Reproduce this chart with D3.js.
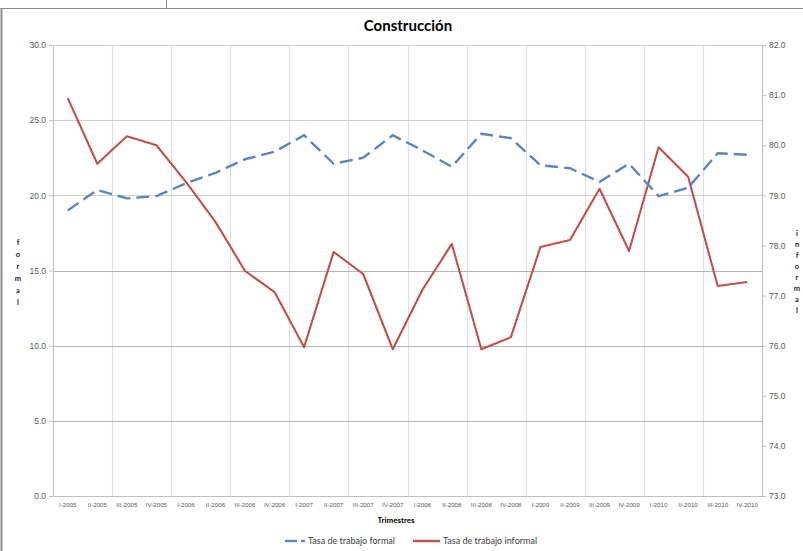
<!DOCTYPE html>
<html>
<head>
<meta charset="utf-8">
<script src="https://cdn.jsdelivr.net/npm/d3@7"></script>
<style>
  html, body { margin: 0; padding: 0; background: #ffffff; }
  svg { display: block; font-family: Lato, "Open Sans", "Liberation Sans", sans-serif; }
</style>
</head>
<body>
<svg id="chart" width="803" height="551"></svg>
<script>
const categories = ["I-2005","II-2005","III-2005","IV-2005","I-2006","II-2006","III-2006","IV-2006",
  "I-2007","II-2007","III-2007","IV-2007","I-2008","II-2008","III-2008","IV-2008",
  "I-2009","II-2009","III-2009","IV-2009","I-2010","II-2010","III-2010","IV-2010"];
const formal = [19.0,20.35,19.8,19.95,20.8,21.5,22.4,22.9,24.0,22.1,22.5,24.0,
  23.0,21.9,24.1,23.8,22.0,21.8,20.9,22.1,19.95,20.5,22.8,22.7];
const informal = [80.94,79.63,80.18,80.0,79.27,78.47,77.49,77.07,75.97,77.87,77.43,75.93,
  77.11,78.03,75.93,76.17,77.97,78.11,79.13,77.89,79.96,79.37,77.19,77.27];
const leftTicks = [0,5,10,15,20,25,30];
const rightTicks = [73,74,75,76,77,78,79,80,81,82];
const seriesNames = ["Tasa de trabajo formal","Tasa de trabajo informal"];

const svg = d3.select("#chart");
const L = 53, R = 762, T = 45, B = 496;

const x = d3.scaleBand().domain(categories).range([L, R]);
const yL = d3.scaleLinear().domain([0, 30]).range([B, T]);
const yR = d3.scaleLinear().domain([73, 82]).range([B, T]);

// outer frame lines
svg.append("line").attr("x1",0).attr("x2",803).attr("y1",8.5).attr("y2",8.5).attr("stroke","#8c8c8c");
svg.append("line").attr("x1",166.5).attr("x2",166.5).attr("y1",0).attr("y2",8.5).attr("stroke","#8c8c8c");
svg.append("line").attr("x1",1.5).attr("x2",1.5).attr("y1",8.5).attr("y2",551).attr("stroke","#8c8c8c").attr("stroke-width",2);

// vertical gridlines every 2 categories
const vIdx = d3.range(0, categories.length + 1, 2);
svg.append("g").selectAll("line").data(vIdx).join("line")
  .attr("x1", i => Math.round(L + i * x.step()) + 0.5)
  .attr("x2", i => Math.round(L + i * x.step()) + 0.5)
  .attr("y1", T).attr("y2", B)
  .attr("stroke", "#e0e0e0").attr("stroke-width", 1.2);

// horizontal gridlines
svg.append("g").selectAll("line").data(leftTicks).join("line")
  .attr("x1", L).attr("x2", R)
  .attr("y1", d => Math.round(yL(d)) + 0.5).attr("y2", d => Math.round(yL(d)) + 0.5)
  .attr("stroke", d => d <= 15 && d > 0 ? "#b5b5b5" : "#cfcfcf").attr("stroke-width", 1.2);

// left axis
const gL = svg.append("g").attr("transform", `translate(${L},0)`)
  .call(d3.axisLeft(yL).tickValues(leftTicks).tickFormat(d3.format(".1f")).tickSize(4).tickPadding(3));
gL.select(".domain").attr("stroke", "#bfbfbf");
gL.selectAll(".tick line").attr("stroke", "#bfbfbf");
gL.selectAll("text").attr("fill", "#595959").attr("font-size", 8.5);

// right axis
const gR = svg.append("g").attr("transform", `translate(${R},0)`)
  .call(d3.axisRight(yR).tickValues(rightTicks).tickFormat(d3.format(".1f")).tickSize(4).tickPadding(3));
gR.select(".domain").attr("stroke", "#bfbfbf");
gR.selectAll(".tick line").attr("stroke", "#bfbfbf");
gR.selectAll("text").attr("fill", "#595959").attr("font-size", 8.5);

// bottom axis
const gB = svg.append("g").attr("transform", `translate(0,${B})`)
  .call(d3.axisBottom(x).tickSize(0).tickPadding(7));
gB.select(".domain").attr("stroke", "#bfbfbf");
gB.selectAll("text").attr("fill", "#595959").attr("font-size", 6.2);

// title
svg.append("text").attr("x", 408).attr("y", 31).attr("text-anchor", "middle")
  .attr("font-size", 15).attr("font-weight", "bold").attr("fill", "#000").text("Construcción");

// x axis title
svg.append("text").attr("x", 396).attr("y", 523).attr("text-anchor", "middle")
  .attr("font-size", 8).attr("font-weight", "bold").attr("fill", "#000").text("Trimestres");

// stacked axis titles
function stacked(word, cx, y0, gap) {
  const t = svg.append("text").attr("text-anchor", "middle").attr("font-size", 7.5)
    .attr("font-weight", "bold").attr("fill", "#1a1a1a");
  word.split("").forEach((ch, i) => {
    t.append("tspan").attr("x", cx).attr("y", y0 + i * gap).text(ch);
  });
}
stacked("formal", 18, 245, 12);
stacked("informal", 797, 236, 11);

// lines
const lineL = d3.line().x((d, i) => x(categories[i]) + x.bandwidth() / 2).y(d => yL(d));
const lineR = d3.line().x((d, i) => x(categories[i]) + x.bandwidth() / 2).y(d => yR(d));

svg.append("path").datum(informal).attr("d", lineR)
  .attr("fill", "none").attr("stroke", "#c0504d").attr("stroke-width", 2.1).attr("stroke-linejoin", "round");
svg.append("path").datum(formal).attr("d", lineL)
  .attr("fill", "none").attr("stroke", "#5b84c4").attr("stroke-width", 2.4)
  .attr("stroke-dasharray", "13,6");

// legend
const lg = svg.append("g");
lg.append("line").attr("x1", 285).attr("x2", 297).attr("y1", 541).attr("y2", 541)
  .attr("stroke", "#5b84c4").attr("stroke-width", 2.4);
lg.append("line").attr("x1", 301).attr("x2", 305).attr("y1", 541).attr("y2", 541)
  .attr("stroke", "#5b84c4").attr("stroke-width", 2.4);
lg.append("text").attr("x", 308).attr("y", 544).attr("font-size", 9).attr("fill", "#404040").text(seriesNames[0]);
lg.append("line").attr("x1", 413).attr("x2", 440).attr("y1", 541).attr("y2", 541)
  .attr("stroke", "#c0504d").attr("stroke-width", 2.4);
lg.append("text").attr("x", 443).attr("y", 544).attr("font-size", 9).attr("fill", "#404040").text(seriesNames[1]);
</script>
</body>
</html>
